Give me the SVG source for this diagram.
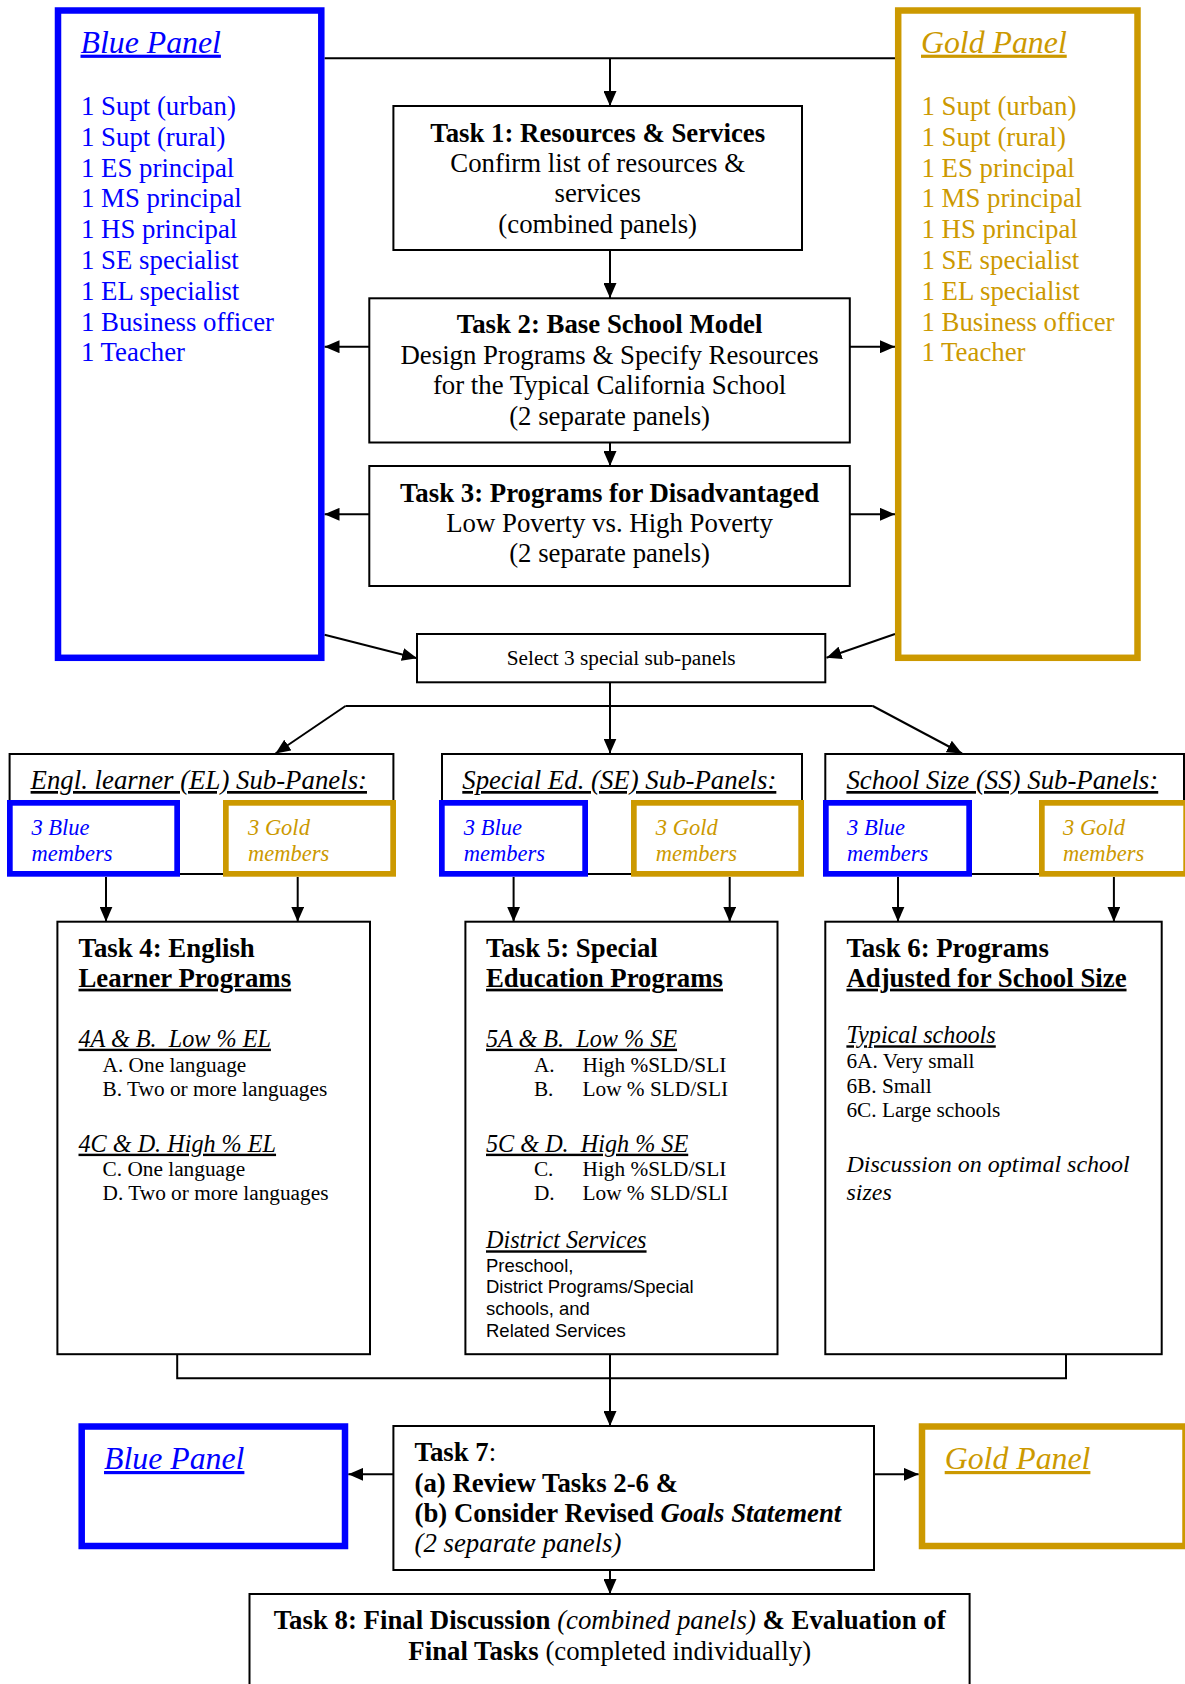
<svg xmlns="http://www.w3.org/2000/svg" width="1185" height="1684" viewBox="0 0 1185 1684">
<style>
text{font-family:"Liberation Serif","Times New Roman",serif;fill:#000;white-space:pre;text-decoration-skip-ink:none}
.t{font-size:26.8px}
.b{font-weight:bold}
.i{font-style:italic}
.u{text-decoration:underline}
.m{text-anchor:middle}
.blue{fill:#0000FF}
.gold{fill:#CC9900}
.box{fill:#fff;stroke:#000;stroke-width:2}
.bp{fill:#fff;stroke:#0000FF;stroke-width:6.5}
.gp{fill:#fff;stroke:#CC9900;stroke-width:6.5}
.bm{fill:#fff;stroke:#0000FF;stroke-width:5.7}
.gm{fill:#fff;stroke:#CC9900;stroke-width:5.7}
.mem{font-size:22.5px;font-style:italic}
.hd{font-size:24.2px;font-style:italic;text-decoration:underline}
.it{font-size:21.3px}
.sans{font-family:"Liberation Sans",Arial,sans-serif;font-size:18.5px}
.ln{fill:none;stroke:#000;stroke-width:2}
.ar{fill:none;stroke:#000;stroke-width:2;marker-end:url(#ah)}
</style>
<defs>
<marker id="ah" markerUnits="userSpaceOnUse" markerWidth="15" markerHeight="13" refX="15" refY="6.5" orient="auto"><path d="M0,0 L15,6.5 L0,13 z" fill="#000"/></marker>
</defs>
<rect width="1185" height="1684" fill="#fff"/>

<g id="connectors">
<polyline class="ln" points="324.5,58.3 895,58.3"/>
<line class="ar" x1="610" y1="58.3" x2="610" y2="106"/>
<line class="ar" x1="610" y1="250" x2="610" y2="298"/>
<line class="ar" x1="369.3" y1="346.7" x2="324.5" y2="346.7"/>
<line class="ar" x1="849.8" y1="346.7" x2="895" y2="346.7"/>
<line class="ar" x1="610" y1="442.5" x2="610" y2="466"/>
<line class="ar" x1="369.3" y1="514.3" x2="324.5" y2="514.3"/>
<line class="ar" x1="849.8" y1="514.3" x2="895" y2="514.3"/>
<line class="ar" x1="324.5" y1="634.7" x2="417" y2="658.3"/>
<line class="ar" x1="895" y1="634" x2="826.5" y2="657.7"/>
<line class="ar" x1="610" y1="682.3" x2="610" y2="753.5"/>
<polyline class="ln" points="345.5,706 872.8,706"/>
<line class="ar" x1="345.5" y1="706" x2="275.5" y2="753.5"/>
<line class="ar" x1="872.8" y1="706" x2="962" y2="753.5"/>
<line class="ar" x1="106" y1="877" x2="106" y2="921.7"/>
<line class="ar" x1="297.7" y1="877" x2="297.7" y2="921.7"/>
<line class="ar" x1="513.6" y1="877" x2="513.6" y2="921.7"/>
<line class="ar" x1="729.7" y1="877" x2="729.7" y2="921.7"/>
<line class="ar" x1="898" y1="877" x2="898" y2="921.7"/>
<line class="ar" x1="1113.9" y1="877" x2="1113.9" y2="921.7"/>
<polyline class="ln" points="177.2,1354 177.2,1378.3 1066,1378.3 1066,1354"/>
<line class="ar" x1="610" y1="1354" x2="610" y2="1426"/>
<line class="ar" x1="393.4" y1="1474.3" x2="348.3" y2="1474.3"/>
<line class="ar" x1="874" y1="1474.3" x2="918.7" y2="1474.3"/>
<line class="ar" x1="610" y1="1570" x2="610" y2="1594"/>
</g>

<g id="blue-panel">
<rect class="bp" x="58" y="10.5" width="263.3" height="647.3"/>
<text class="t i u blue" x="80.5" y="52.7" style="font-size:31.8px">Blue Panel</text>
<text class="t blue" x="81" y="115">1 Supt (urban)</text>
<text class="t blue" x="81" y="145.8">1 Supt (rural)</text>
<text class="t blue" x="81" y="176.6">1 ES principal</text>
<text class="t blue" x="81" y="207.4">1 MS principal</text>
<text class="t blue" x="81" y="238.2">1 HS principal</text>
<text class="t blue" x="81" y="269">1 SE specialist</text>
<text class="t blue" x="81" y="299.8">1 EL specialist</text>
<text class="t blue" x="81" y="330.6">1 Business officer</text>
<text class="t blue" x="81" y="361.4">1 Teacher</text>
</g>

<g id="gold-panel">
<rect class="gp" x="898.2" y="10.5" width="239.3" height="647.3"/>
<text class="t i u gold" x="921" y="52.7" style="font-size:31.8px">Gold Panel</text>
<text class="t gold" x="921.5" y="115">1 Supt (urban)</text>
<text class="t gold" x="921.5" y="145.8">1 Supt (rural)</text>
<text class="t gold" x="921.5" y="176.6">1 ES principal</text>
<text class="t gold" x="921.5" y="207.4">1 MS principal</text>
<text class="t gold" x="921.5" y="238.2">1 HS principal</text>
<text class="t gold" x="921.5" y="269">1 SE specialist</text>
<text class="t gold" x="921.5" y="299.8">1 EL specialist</text>
<text class="t gold" x="921.5" y="330.6">1 Business officer</text>
<text class="t gold" x="921.5" y="361.4">1 Teacher</text>
</g>

<g id="task1">
<rect class="box" x="393.4" y="106" width="408.6" height="144"/>
<text class="t b m" x="597.7" y="141.7">Task 1: Resources &amp; Services</text>
<text class="t m" x="597.7" y="171.7">Confirm list of resources &amp;</text>
<text class="t m" x="597.7" y="202.3">services</text>
<text class="t m" x="597.7" y="233">(combined panels)</text>
</g>

<g id="task2">
<rect class="box" x="369.3" y="298.3" width="480.5" height="144.2"/>
<text class="t b m" x="609.6" y="333.3">Task 2: Base School Model</text>
<text class="t m" x="609.6" y="363.5">Design Programs &amp; Specify Resources</text>
<text class="t m" x="609.6" y="394.3">for the Typical California School</text>
<text class="t m" x="609.6" y="425">(2 separate panels)</text>
</g>

<g id="task3">
<rect class="box" x="369.3" y="466" width="480.5" height="120"/>
<text class="t b m" x="609.6" y="501.7">Task 3: Programs for Disadvantaged</text>
<text class="t m" x="609.6" y="531.7">Low Poverty vs. High Poverty</text>
<text class="t m" x="609.6" y="562.3">(2 separate panels)</text>
</g>

<g id="select">
<rect class="box" x="417" y="634" width="408.3" height="48.3"/>
<text class="m" x="621.2" y="665" style="font-size:21.3px">Select 3 special sub-panels</text>
</g>

<g id="el-subpanels">
<rect class="box" x="9.6" y="754" width="383.8" height="120"/>
<text class="t i u" x="30.6" y="789">Engl. learner (EL) Sub-Panels:</text>
<rect class="bm" x="9.85" y="802.85" width="167.3" height="71"/>
<text class="mem blue" x="31.4" y="835">3 Blue</text>
<text class="mem blue" x="31.4" y="861">members</text>
<rect class="gm" x="225.85" y="802.85" width="167.3" height="71"/>
<text class="mem gold" x="248" y="835">3 Gold</text>
<text class="mem gold" x="248" y="861">members</text>
</g>

<g id="se-subpanels">
<rect class="box" x="442" y="754" width="360" height="120"/>
<text class="t i u" x="462.3" y="789">Special Ed. (SE) Sub-Panels:</text>
<rect class="bm" x="441.85" y="802.85" width="143.3" height="71"/>
<text class="mem blue" x="463.8" y="835">3 Blue</text>
<text class="mem blue" x="463.8" y="861">members</text>
<rect class="gm" x="633.85" y="802.85" width="167.3" height="71"/>
<text class="mem gold" x="655.8" y="835">3 Gold</text>
<text class="mem gold" x="655.8" y="861">members</text>
</g>

<g id="ss-subpanels">
<rect class="box" x="825.3" y="754" width="358.7" height="120"/>
<text class="t i u" x="846.4" y="789">School Size (SS) Sub-Panels:</text>
<rect class="bm" x="825.85" y="802.85" width="143.3" height="71"/>
<text class="mem blue" x="847" y="835">3 Blue</text>
<text class="mem blue" x="847" y="861">members</text>
<rect class="gm" x="1041.85" y="802.85" width="144.3" height="71"/>
<text class="mem gold" x="1063" y="835">3 Gold</text>
<text class="mem gold" x="1063" y="861">members</text>
</g>

<g id="task4">
<rect class="box" x="57.4" y="921.7" width="312.6" height="432.5"/>
<text class="t b" x="78.5" y="957.3">Task 4: English</text>
<text class="t b u" x="78.5" y="986.7">Learner Programs</text>
<text class="hd" x="78.5" y="1046.7">4A &amp; B.  Low % EL</text>
<text class="it" x="102.6" y="1071.7">A. One language</text>
<text class="it" x="102.6" y="1096">B. Two or more languages</text>
<text class="hd" x="78.5" y="1151.7">4C &amp; D. High % EL</text>
<text class="it" x="102.6" y="1175.7">C. One language</text>
<text class="it" x="102.6" y="1200">D. Two or more languages</text>
</g>

<g id="task5">
<rect class="box" x="465.4" y="921.7" width="312.1" height="432.5"/>
<text class="t b" x="486" y="957.3">Task 5: Special</text>
<text class="t b u" x="486" y="986.7">Education Programs</text>
<text class="hd" x="486" y="1046.7">5A &amp; B.  Low % SE</text>
<text class="it" x="533.9" y="1071.7">A.</text>
<text class="it" x="582.5" y="1071.7">High %SLD/SLI</text>
<text class="it" x="533.9" y="1096">B.</text>
<text class="it" x="582.5" y="1096">Low % SLD/SLI</text>
<text class="hd" x="486" y="1151.7">5C &amp; D.  High % SE</text>
<text class="it" x="533.9" y="1175.7">C.</text>
<text class="it" x="582.5" y="1175.7">High %SLD/SLI</text>
<text class="it" x="533.9" y="1200">D.</text>
<text class="it" x="582.5" y="1200">Low % SLD/SLI</text>
<text class="hd" x="486" y="1248.3">District Services</text>
<text class="sans" x="486" y="1271.7">Preschool,</text>
<text class="sans" x="486" y="1293.3">District Programs/Special</text>
<text class="sans" x="486" y="1315">schools, and</text>
<text class="sans" x="486" y="1336.7">Related Services</text>
</g>

<g id="task6">
<rect class="box" x="825.3" y="921.7" width="336.4" height="432.5"/>
<text class="t b" x="846.4" y="957.3">Task 6: Programs</text>
<text class="t b u" x="846.4" y="986.7">Adjusted for School Size</text>
<text class="hd" x="846.4" y="1043.3">Typical schools</text>
<text class="it" x="846.4" y="1068.3">6A. Very small</text>
<text class="it" x="846.4" y="1092.7">6B. Small</text>
<text class="it" x="846.4" y="1117.3">6C. Large schools</text>
<text class="i" x="846.4" y="1171.7" style="font-size:24px">Discussion on optimal school</text>
<text class="i" x="846.4" y="1200" style="font-size:24px">sizes</text>
</g>

<g id="blue-panel-2">
<rect class="bp" x="81.7" y="1426.5" width="263.3" height="119.5"/>
<text class="t i u blue" x="104" y="1469" style="font-size:31.8px">Blue Panel</text>
</g>

<g id="task7">
<rect class="box" x="393.4" y="1426" width="480.6" height="144"/>
<text class="t" x="414.5" y="1461"><tspan class="b">Task 7</tspan>:</text>
<text class="t b" x="414.5" y="1491.7">(a) Review Tasks 2-6 &amp;</text>
<text class="t b" x="414.5" y="1522.3">(b) Consider Revised <tspan class="i">Goals Statement</tspan></text>
<text class="t i" x="414.5" y="1552.3">(2 separate panels)</text>
</g>

<g id="gold-panel-2">
<rect class="gp" x="922" y="1426.5" width="263.5" height="119.5"/>
<text class="t i u gold" x="944.7" y="1469" style="font-size:31.8px">Gold Panel</text>
</g>

<g id="task8">
<rect class="box" x="249.5" y="1594" width="720.1" height="120"/>
<text class="t m" x="609.7" y="1629.3"><tspan class="b">Task 8: Final Discussion</tspan><tspan class="i"> (combined panels) </tspan><tspan class="b">&amp; Evaluation of</tspan></text>
<text class="t m" x="609.7" y="1660"><tspan class="b">Final Tasks</tspan> (completed individually)</text>
</g>
</svg>
